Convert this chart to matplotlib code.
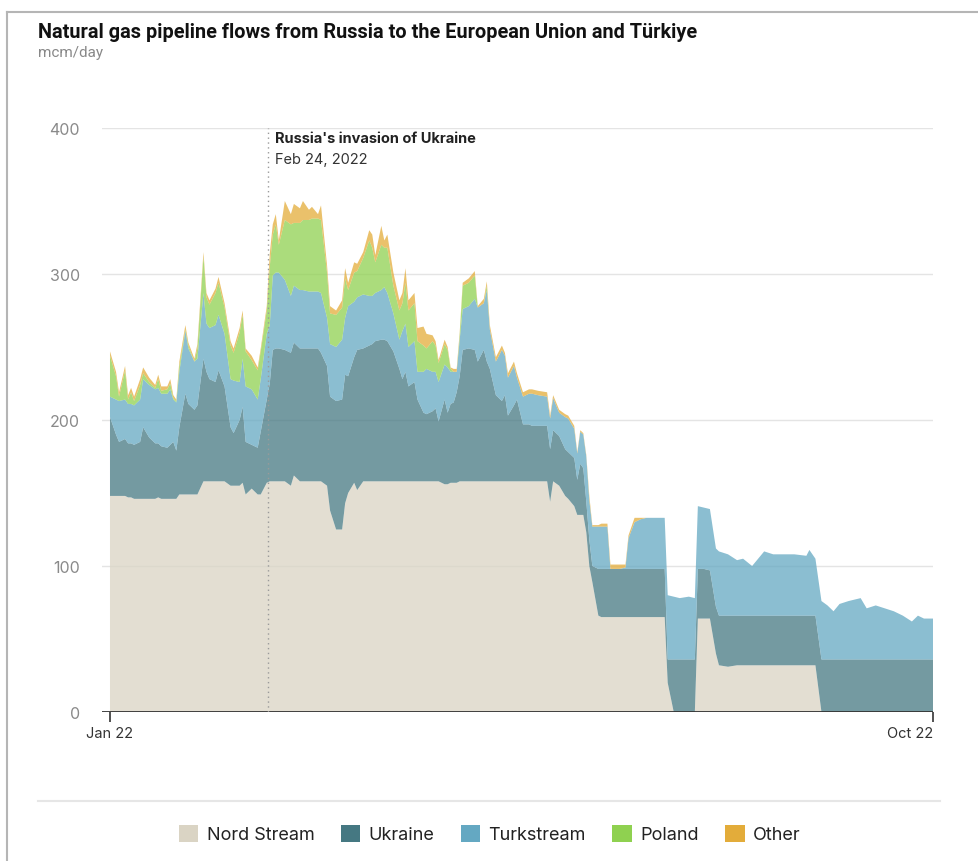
import numpy as np
import pandas as pd
import matplotlib
matplotlib.use('Agg')
import matplotlib.pyplot as plt
from matplotlib.patches import Patch
from matplotlib.lines import Line2D

# days since 1 Jan 2022
day = [0, 2, 3, 5, 6, 7, 8, 10, 11, 13,
       15, 16, 17, 19, 20, 21, 22, 23, 25, 26,
       28, 29, 31, 32, 33, 35, 36, 38, 40, 41,
       43, 44, 45, 47, 49, 50, 52, 53, 54, 55,
       56, 58, 60, 61, 63, 64, 66, 67, 69, 70,
       72, 73, 75, 77, 78, 79, 81, 82, 84, 86,
       87, 88, 90, 91, 92, 94, 96, 97, 98, 99,
       101, 102, 104, 105, 107, 108, 109, 111, 112, 113,
       114, 115, 116, 117, 119, 121, 122, 124, 125, 126,
       128, 130, 131, 132, 134, 135, 137, 139, 140, 142,
       145, 146, 147, 149, 151, 152, 154, 155, 156, 157,
       158, 159, 160, 162, 163, 165, 166, 169, 171, 172,
       174, 176, 178, 181, 184, 185, 187, 189, 192, 194,
       195, 197, 199, 201, 202, 205, 208, 210, 213, 217,
       220, 223, 227, 231, 232, 234, 236, 238, 240, 242,
       245, 249, 251, 254, 257, 260, 263, 266, 268, 270,
       273]

# mcm/day
nord_stream = [148, 148, 148, 148, 147, 147, 146, 146, 146, 146,
               146, 147, 146, 146, 146, 146, 146, 149, 149, 149,
               149, 149, 158, 158, 158, 158, 158, 158, 155, 155,
               155, 157, 149, 153, 149, 149, 157, 158, 158, 158,
               158, 158, 155, 162, 158, 158, 158, 158, 158, 158,
               155, 138, 125, 125, 143, 150, 157, 152, 158, 158,
               158, 158, 158, 158, 158, 158, 158, 158, 158, 158,
               158, 158, 158, 158, 158, 158, 158, 156, 156, 157,
               157, 157, 158, 158, 158, 158, 158, 158, 158, 158,
               158, 158, 158, 158, 158, 158, 158, 158, 158, 158,
               158, 144, 158, 155, 148, 146, 141, 135, 135, 135,
               123, 100, 89, 66, 65, 65, 65, 65, 65, 65,
               65, 65, 65, 65, 65, 20, 0, 0, 0, 0,
               64, 64, 64, 40, 32, 31, 32, 32, 32, 32,
               32, 32, 32, 32, 32, 32, 0, 0, 0, 0,
               0, 0, 0, 0, 0, 0, 0, 0, 0, 0,
               0]

ukraine = [54, 42, 37, 39, 37, 37, 37, 39, 49, 42,
           38, 37, 36, 35, 37, 39, 33, 46, 69, 62,
           58, 61, 84, 75, 70, 68, 76, 65, 40, 36,
           45, 52, 36, 30, 32, 43, 57, 67, 90, 91,
           91, 90, 91, 91, 91, 91, 91, 91, 91, 88,
           82, 78, 88, 89, 88, 80, 86, 96, 91, 93,
           94, 96, 97, 97, 96, 89, 77, 70, 75, 65,
           68, 56, 47, 46, 48, 50, 41, 58, 49, 54,
           55, 62, 72, 90, 91, 90, 82, 90, 82, 77,
           59, 55, 59, 45, 52, 56, 39, 39, 38, 38,
           38, 36, 35, 34, 32, 32, 33, 24, 35, 32,
           21, 18, 11, 32, 33, 33, 33, 33, 33, 33,
           33, 33, 33, 33, 33, 16, 36, 36, 36, 36,
           34, 34, 33, 32, 34, 35, 34, 34, 34, 34,
           34, 34, 34, 34, 34, 34, 36, 36, 36, 36,
           36, 36, 36, 36, 36, 36, 36, 36, 36, 36,
           36]

turkstream = [14, 24, 28, 27, 27, 27, 27, 29, 33, 36,
              37, 38, 36, 37, 38, 29, 33, 38, 43, 38,
              33, 32, 45, 33, 35, 39, 38, 36, 33, 36,
              26, 33, 38, 38, 33, 36, 45, 40, 51, 52,
              52, 48, 39, 39, 40, 40, 39, 39, 39, 41,
              33, 36, 37, 41, 39, 48, 38, 36, 37, 34,
              33, 33, 34, 36, 33, 26, 20, 33, 33, 27,
              28, 19, 28, 31, 27, 25, 27, 24, 31, 22,
              21, 14, 25, 28, 29, 35, 37, 32, 49, 27,
              23, 35, 27, 26, 27, 15, 19, 21, 22, 21,
              20, 21, 22, 16, 22, 23, 20, 18, 22, 23,
              31, 27, 27, 29, 29, 29, 0, 0, 1, 21,
              32, 34, 35, 35, 35, 44, 43, 42, 43, 42,
              43, 42, 42, 40, 44, 42, 38, 39, 34, 44,
              42, 42, 42, 41, 45, 39, 40, 37, 33, 38,
              40, 42, 35, 37, 35, 33, 30, 26, 30, 28,
              28]

poland = [28, 16, 3, 20, 3, 8, 3, 10, 4, 2,
          1, 6, 2, 3, 4, 1, 1, 4, 1, 2,
          0, 7, 25, 18, 16, 22, 22, 18, 23, 19,
          34, 30, 24, 20, 20, 19, 16, 40, 28, 33,
          19, 41, 49, 43, 46, 48, 49, 50, 50, 50,
          31, 21, 22, 22, 27, 11, 20, 18, 25, 38,
          33, 21, 31, 27, 31, 19, 20, 19, 28, 25,
          26, 21, 18, 14, 21, 18, 13, 14, 12, 2,
          0, 0, 3, 16, 16, 16, 0, 0, 3, 0] + [0] * 71

other = [3, 3, 3, 3, 3, 3, 3, 4, 4, 3,
         2, 3, 3, 2, 3, 2, 1, 3, 3, 2,
         2, 3, 3, 3, 3, 3, 4, 3, 3, 3,
         3, 3, 2, 3, 2, 2, 3, 9, 7, 7,
         3, 13, 7, 13, 10, 13, 7, 8, 3, 10,
         5, 5, 3, 5, 7, 5, 7, 5, 4, 7,
         9, 5, 13, 5, 9, 9, 7, 7, 10, 7,
         7, 9, 13, 10, 4, 3, 2, 3, 2, 1,
         2, 2, 2, 2, 3, 3, 1, 3, 3, 3,
         3, 3, 2, 3, 3, 3, 3, 3, 3, 3,
         3, 2, 2, 2, 2, 2, 2, 1, 1, 1,
         1, 3, 1, 1, 2, 2, 3, 3, 2, 2,
         3, 1, 0, 0, 0, 0, 0, 0, 0, 0] + [0] * 31

labels = ['Nord Stream', 'Ukraine', 'Turkstream', 'Poland', 'Other']
colors = ['#dad4c4', '#457882', '#64a8c2', '#8fd150', '#e3ac3a']

start = pd.Timestamp('2022-01-01')
end = pd.Timestamp('2022-10-01')
invasion = pd.Timestamp('2022-02-24')
dates = start + pd.to_timedelta(day, unit='D')

W, H = 979, 862
fig = plt.figure(figsize=(W / 100, H / 100), dpi=100)
ax = fig.add_axes([102 / W, 1 - 713 / H, (933 - 102) / W, (713 - 129) / H])

ax.stackplot(dates, nord_stream, ukraine, turkstream, poland, other,
             colors=colors, alpha=0.75, linewidth=0, zorder=2)

ax.set_xlim(start - pd.Timedelta(days=2.65), end)
ax.set_ylim(0, 400)

# grid
for v in [100, 200, 300, 400]:
    ax.axhline(v, color='#e4e4e4', lw=1, zorder=1)
ax.axhline(0, color='#333333', lw=1.3, zorder=3)

for s in ax.spines.values():
    s.set_visible(False)

ax.set_yticks([0, 100, 200, 300, 400])
ax.tick_params(axis='y', length=0, pad=16, labelsize=11.5, labelcolor='#8a8a8a')
for t in ax.get_yticklabels():
    t.set_fontfamily('Inter')

ax.set_xticks([start, end])
ax.set_xticklabels(['Jan 22', 'Oct 22'], fontsize=10.5, color='#333333', fontfamily='Inter')
ax.tick_params(axis='x', length=7, width=1.2, color='#333333', pad=3)
xl = ax.get_xticklabels()
xl[1].set_ha('right')

# invasion marker (drawn where the reference puts it, just left of the jump)
mark_x = invasion - pd.Timedelta(days=1.6)
ax.plot([mark_x, mark_x], [0, 400], color='#9a9a9a', lw=1, ls=(0, (1, 2.5)), zorder=4)
ax.annotate("Russia's invasion of Ukraine", xy=(mark_x, 400), xytext=(5, -2),
            textcoords='offset points', ha='left', va='top', fontsize=10.5,
            fontweight='bold', color='#222222', fontfamily='Inter')
ax.annotate('Feb 24, 2022', xy=(mark_x, 400), xytext=(5, -17),
            textcoords='offset points', ha='left', va='top', fontsize=10.5,
            color='#333333', fontfamily='Inter')

# title
fig.text(38 / W, 1 - 32 / H, 'Natural gas pipeline flows from Russia to the European Union and Türkiye',
         fontsize=14.3, fontweight='bold', va='center', ha='left', color='#111111',
         family='Roboto')
fig.text(38 / W, 1 - 53 / H, 'mcm/day', fontsize=11, va='center', ha='left',
         color='#888888', family='Roboto')

# frame and separator
fig.add_artist(Line2D([7 / W, 1], [1 - 13 / H, 1 - 13 / H], color='#b5b5b5', lw=1.5))
fig.add_artist(Line2D([7 / W, 7 / W], [0, 1 - 13 / H], color='#b5b5b5', lw=1.5))
fig.add_artist(Line2D([38 / W, 940 / W], [1 - 802 / H, 1 - 802 / H], color='#e6e6e6', lw=1.5))

handles = [Patch(facecolor=c, edgecolor='none') for c in colors]
fig.legend(handles, labels, loc='center', bbox_to_anchor=(0.5, 1 - 835 / H), ncol=5,
           frameon=False, prop={'family': 'Inter', 'size': 13},
           handlelength=1.1, handleheight=1.1, handletextpad=0.45, columnspacing=1.45,
           labelcolor='#222222')

fig.savefig('out.png', dpi=100)
